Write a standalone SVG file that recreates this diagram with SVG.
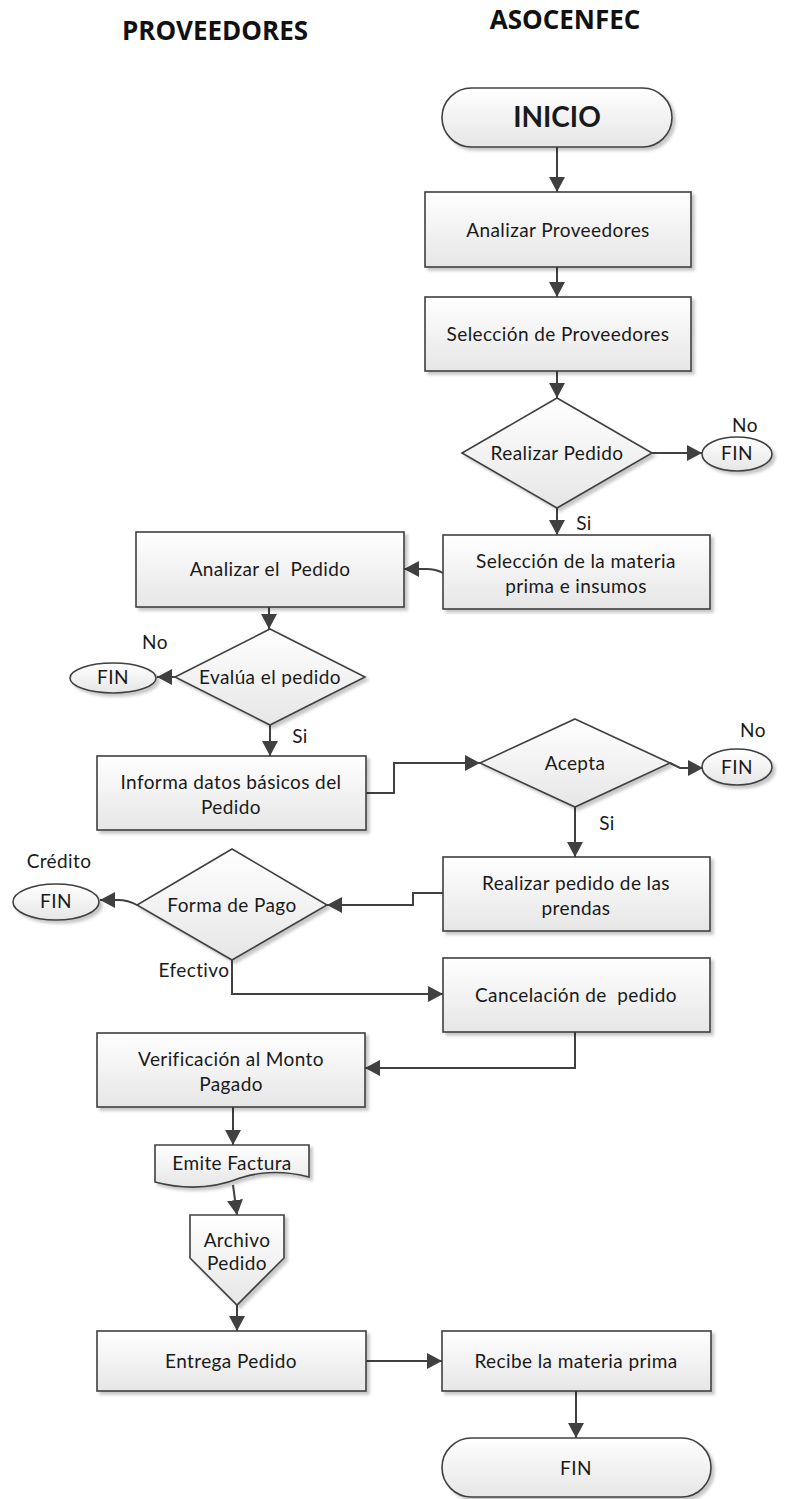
<svg xmlns="http://www.w3.org/2000/svg" width="788" height="1499" viewBox="0 0 788 1499">
<defs>
<linearGradient id="g" x1="0" y1="0" x2="0" y2="1">
<stop offset="0" stop-color="#ffffff"/>
<stop offset="1" stop-color="#e6e6e6"/>
</linearGradient>
<filter id="sh" x="-10%" y="-10%" width="130%" height="140%">
<feDropShadow dx="3" dy="3" stdDeviation="1.5" flood-color="#000" flood-opacity="0.22"/>
</filter>
<marker id="ah" markerUnits="userSpaceOnUse" markerWidth="16" markerHeight="16" viewBox="0 0 16 16" refX="15" refY="8" orient="auto">
<path d="M0,0 L15,8 L0,16 z" fill="#404040"/>
</marker>
<style>
.n{fill:url(#g);stroke:#404040;stroke-width:1.6;filter:url(#sh)}
.t{font-family:Lato,"Open Sans",sans-serif;font-size:19px;letter-spacing:0.4px;fill:#1a1a1a;text-anchor:middle}
.l{font-family:Lato,"Open Sans",sans-serif;font-size:19px;letter-spacing:0.4px;fill:#1a1a1a;text-anchor:middle}
.h{font-family:"Open Sans",Lato,sans-serif;font-size:26px;font-weight:bold;fill:#111;text-anchor:middle}
.c{fill:none;stroke:#404040;stroke-width:2;marker-end:url(#ah)}
.p{white-space:pre}
</style>
</defs>
<rect width="788" height="1499" fill="#fff"/>
<text class="h" x="215" y="40">PROVEEDORES</text>
<text class="h" x="565" y="29">ASOCENFEC</text>

<g id="connectors">
<path class="c" d="M557,147 V192"/>
<path class="c" d="M557,267 V297"/>
<path class="c" d="M557,371 V398"/>
<path class="c" d="M652,453 H702"/>
<path class="c" d="M557,508 V535"/>
<path class="c" d="M443,573 Q436,569 426,569 H404"/>
<path class="c" d="M269,607 V629"/>
<path class="c" d="M175,677 H157"/>
<path class="c" d="M270,725 V756"/>
<path class="c" d="M366,793 H394 V763 H480"/>
<path class="c" d="M670,763 L680,768 H703"/>
<path class="c" d="M575,807 V857"/>
<path class="c" d="M443,893 H413 V905 H327"/>
<path class="c" d="M137,905 Q128,900 118,900 H100"/>
<path class="c" d="M232,960 V994 H443"/>
<path class="c" d="M575,1032 V1068 H365"/>
<path class="c" d="M233,1107 V1145"/>
<path class="c" d="M233,1185 L237,1215"/>
<path class="c" d="M237,1305 V1331"/>
<path class="c" d="M366,1361 H442"/>
<path class="c" d="M576,1391 V1438"/>
</g>

<g id="inicio">
<rect class="n" x="442" y="88" width="230" height="59" rx="29.5"/>
<text class="t" x="557" y="127" style="font-size:28px;font-weight:bold;letter-spacing:0">INICIO</text>
</g>
<g id="analizar-proveedores">
<rect class="n" x="425" y="192" width="266" height="75"/>
<text class="t" x="558" y="237">Analizar Proveedores</text>
</g>
<g id="seleccion-proveedores">
<rect class="n" x="425" y="297" width="266" height="74"/>
<text class="t" x="558" y="341">Selección de Proveedores</text>
</g>
<g id="realizar-pedido">
<polygon class="n" points="557,398 652,453 557,508 462,453"/>
<text class="t" x="557" y="460">Realizar Pedido</text>
</g>
<g id="fin-1">
<ellipse class="n" cx="737" cy="454" rx="35" ry="17"/>
<text class="t" x="737" y="460">FIN</text>
<text class="l" x="745" y="432">No</text>
</g>
<g id="seleccion-materia">
<rect class="n" x="443" y="535" width="267" height="74"/>
<text class="t" x="576" y="568">Selección de la materia</text>
<text class="t" x="576" y="593">prima e insumos</text>
</g>
<text class="l" x="584" y="530">Si</text>
<g id="analizar-pedido">
<rect class="n" x="136" y="532" width="268" height="75"/>
<text class="t p" x="270" y="576" xml:space="preserve">Analizar el  Pedido</text>
</g>
<g id="evalua">
<polygon class="n" points="270,629 365,677 270,725 175,677"/>
<text class="t" x="270" y="684">Evalúa el pedido</text>
</g>
<g id="fin-2">
<ellipse class="n" cx="113" cy="678" rx="43" ry="15"/>
<text class="t" x="113" y="684">FIN</text>
<text class="l" x="155" y="649">No</text>
</g>
<text class="l" x="300" y="743">Si</text>
<g id="informa">
<rect class="n" x="97" y="756" width="269" height="74"/>
<text class="t" x="231" y="789">Informa datos básicos del</text>
<text class="t" x="231" y="814">Pedido</text>
</g>
<g id="acepta">
<polygon class="n" points="575,719 670,763 575,807 480,763"/>
<text class="t" x="575" y="770">Acepta</text>
</g>
<g id="fin-3">
<ellipse class="n" cx="737" cy="767" rx="35" ry="18"/>
<text class="t" x="737" y="774">FIN</text>
<text class="l" x="753" y="737">No</text>
</g>
<text class="l" x="607" y="830">Si</text>
<g id="realizar-pedido-prendas">
<rect class="n" x="443" y="857" width="267" height="74"/>
<text class="t" x="576" y="890">Realizar pedido de las</text>
<text class="t" x="576" y="915">prendas</text>
</g>
<g id="forma-pago">
<polygon class="n" points="232,849 327,905 232,960 137,905"/>
<text class="t" x="232" y="912">Forma de Pago</text>
</g>
<g id="fin-4">
<ellipse class="n" cx="56" cy="902" rx="43" ry="18"/>
<text class="t" x="56" y="908">FIN</text>
<text class="l" x="59" y="868">Crédito</text>
</g>
<text class="l" x="194" y="977">Efectivo</text>
<g id="cancelacion">
<rect class="n" x="443" y="958" width="267" height="74"/>
<text class="t p" x="576" y="1002" xml:space="preserve">Cancelación de  pedido</text>
</g>
<g id="verificacion">
<rect class="n" x="97" y="1033" width="268" height="74"/>
<text class="t" x="231" y="1066">Verificación al Monto</text>
<text class="t" x="231" y="1091">Pagado</text>
</g>
<g id="emite-factura">
<path class="n" d="M155,1145 H309 V1177 C290,1172 265,1170 240,1178 C215,1188 185,1190 155,1182 Z"/>
<text class="t" x="232" y="1170">Emite Factura</text>
</g>
<g id="archivo-pedido">
<polygon class="n" points="190,1215 284,1215 284,1258 237,1305 190,1258"/>
<text class="t" x="237" y="1247">Archivo</text>
<text class="t" x="237" y="1270">Pedido</text>
</g>
<g id="entrega">
<rect class="n" x="97" y="1331" width="269" height="60"/>
<text class="t" x="231" y="1368">Entrega Pedido</text>
</g>
<g id="recibe">
<rect class="n" x="442" y="1331" width="269" height="60"/>
<text class="t" x="576" y="1368">Recibe la materia prima</text>
</g>
<g id="fin-final">
<rect class="n" x="442" y="1438" width="269" height="59" rx="29.5"/>
<text class="t" x="576" y="1475">FIN</text>
</g>
</svg>
